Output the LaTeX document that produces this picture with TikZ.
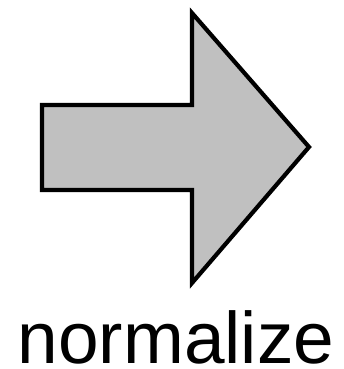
\documentclass[tikz,border=0pt]{standalone}
\usepackage{fontspec}
\setmainfont{Liberation Sans}
\usetikzlibrary{positioning}
\definecolor{arrowgray}{RGB}{192,192,192}

\begin{document}
\begin{tikzpicture}[x=1pt,y=-1pt]
\useasboundingbox (0,0) rectangle (343,369);
\draw[line width=4.2pt,fill=arrowgray,line join=miter]
  (42,105) -- (192,105) -- (192,13) -- (309,147) -- (192,283) -- (192,190) -- (42,190) -- cycle;
\node[font=\fontsize{73}{80}\selectfont,anchor=base,inner sep=0pt,text depth=0pt] (caption) at (176,363) {normalize};
\end{tikzpicture}
\end{document}
